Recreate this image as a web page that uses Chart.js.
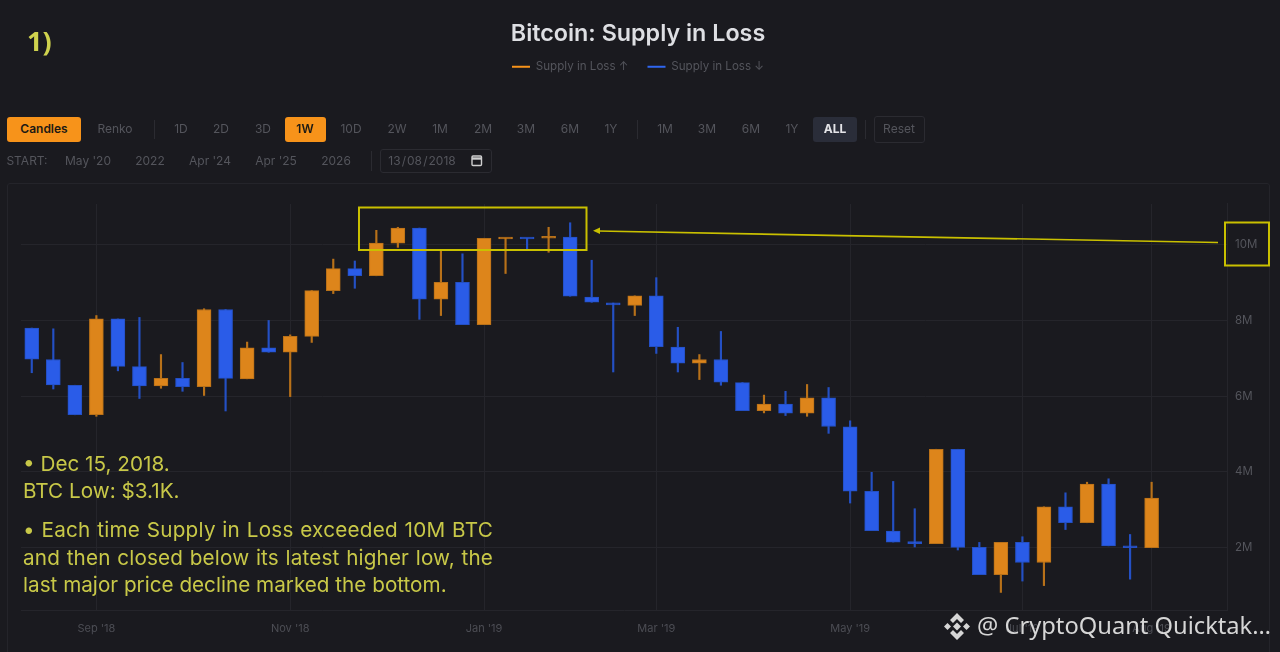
<!DOCTYPE html>
<html>
<head>
<meta charset="utf-8">
<title>Bitcoin: Supply in Loss</title>
<script src="https://cdn.jsdelivr.net/npm/chart.js@4"></script>
<style>
  html, body { margin: 0; padding: 0; background: #1a1a1f; }
  body { width: 1280px; height: 652px; overflow: hidden; position: relative; font-family: Inter, sans-serif; }
  #lineChart { position: absolute; left: 0; top: 0; }
  .frame { position: absolute; left: 7px; top: 183px; width: 1261px; height: 480px; border: 1px solid #24242a; border-radius: 3px; }
  .step { position: absolute; font-size: 12px; line-height: 16px; color: #54555c; transform: translate(-50%, -50%); white-space: nowrap; }
  .box { position: absolute; border-radius: 3px; box-sizing: border-box; }
  .sep { position: absolute; width: 1px; background: #2b2b31; }
  .note { position: absolute; color: #c8c848; font-size: 20.7px; line-height: 24px; white-space: nowrap; }
  .wide { width: 470px; white-space: normal; text-align: justify; text-align-last: justify; }
  .one { position: absolute; left: 27px; top: 22px; color: #cfd24e; font: 700 27px "Open Sans", sans-serif; }
  .mark { position: absolute; left: 977px; top: 609px; color: #d6d6d6; font: 23.7px "Noto Sans", sans-serif; white-space: nowrap; }
  svg { position: absolute; left: 0; top: 0; }
</style>
</head>
<body>
<canvas id="lineChart" width="1280" height="652"></canvas>
<div class="frame"></div>
<div class="box" style="left:7px;top:117px;width:74px;height:25px;background:#f7931a"></div>
<div class="box" style="left:285px;top:117px;width:41px;height:25px;background:#f7931a"></div>
<div class="box" style="left:813px;top:117px;width:44px;height:25px;background:#2a2d39"></div>
<div class="box" style="left:874px;top:116px;width:51px;height:27px;border:1px solid #2b2b31"></div>
<div class="box" style="left:380px;top:149px;width:112px;height:24px;border:1px solid #2b2b31"></div>
<div class="sep" style="left:154px;top:120px;height:19px"></div>
<div class="sep" style="left:637px;top:120px;height:19px"></div>
<div class="sep" style="left:865px;top:120px;height:19px"></div>
<div class="sep" style="left:371px;top:151px;height:20px"></div>
<div id="toolbar"></div>
<div class="note" style="left:23px;top:452px">• Dec 15, 2018.</div>
<div class="note" style="left:23px;top:479px">BTC Low: $3.1K.</div>
<div class="note wide" style="left:23px;top:518px;letter-spacing:.25px">• Each time Supply in Loss exceeded 10M BTC</div>
<div class="note wide" style="left:23px;top:546px;letter-spacing:.15px">and then closed below its latest higher low, the</div>
<div class="note" style="left:23px;top:573px">last major price decline marked the bottom.</div>
<div class="one">1)</div>
<svg width="1280" height="652">
  <rect x="359" y="207.5" width="227.5" height="42.5" fill="none" stroke="#c9c000" stroke-width="2"/>
  <rect x="1225" y="222.5" width="44" height="43" fill="none" stroke="#c9c000" stroke-width="2"/>
  <line x1="1218" y1="242.5" x2="598" y2="231" stroke="#c9c000" stroke-width="1.7"/>
  <polygon points="593,230.8 600,227.6 600,234" fill="#c9c000"/>
  <g fill="none" stroke="#cfcfcf" stroke-width="1.4">
    <rect x="472" y="156" width="9.5" height="9.5" rx="1"/>
    <line x1="472" y1="158.5" x2="481.5" y2="158.5" stroke-width="2.4"/>
  </g>
  <g fill="#d6d6d6">
    <polygon points="957,613 964,620 961,623 957,619 953,623 950,620"/>
    <polygon points="957,640 950,633 953,630 957,634 961,630 964,633"/>
    <polygon points="944,626.5 947.5,623 951,626.5 947.5,630"/>
    <polygon points="963,626.5 966.5,623 970,626.5 966.5,630"/>
    <polygon points="957,622.5 961,626.5 957,630.5 953,626.5"/>
  </g>
</svg>
<div class="mark">@ CryptoQuant Quicktak…</div>

<script>
const weeks = ["2018-08-13","2018-08-20","2018-08-27","2018-09-03","2018-09-10","2018-09-17","2018-09-24",
  "2018-10-01","2018-10-08","2018-10-15","2018-10-22","2018-10-29","2018-11-05","2018-11-12","2018-11-19","2018-11-26",
  "2018-12-03","2018-12-10","2018-12-17","2018-12-24","2018-12-31","2019-01-07","2019-01-14","2019-01-21","2019-01-28",
  "2019-02-04","2019-02-11","2019-02-18","2019-02-25","2019-03-04","2019-03-11","2019-03-18","2019-03-25",
  "2019-04-01","2019-04-08","2019-04-15","2019-04-22","2019-04-29","2019-05-06","2019-05-13","2019-05-20","2019-05-27",
  "2019-06-03","2019-06-10","2019-06-17","2019-06-24","2019-07-01","2019-07-08","2019-07-15","2019-07-22","2019-07-29",
  "2019-08-05","2019-08-12","2019-08-19","2019-08-26","2019-09-02"];

// supply in loss, million BTC
const opens = [7.80,6.97,6.29,5.51,8.04,6.78,6.27,6.47,6.25,8.29,6.46,7.28,7.16,7.58,8.79,9.37,9.18,10.04,10.44,8.56,9.01,7.89,10.15,10.17,10.17,10.20,8.62,8.46,8.40,8.65,7.30,6.87,6.97,6.36,5.62,5.79,5.55,5.96,5.19,3.49,2.44,2.14,2.11,4.60,2.01,1.29,2.14,1.61,3.08,2.66,3.68,2.04,2.00];
const closes = [6.98,6.30,5.51,8.04,6.79,6.27,6.47,6.25,8.29,6.47,7.28,7.16,7.58,8.79,9.37,9.18,10.04,10.44,8.56,9.01,7.89,10.17,10.17,10.15,10.20,8.64,8.48,8.41,8.65,7.31,6.87,6.97,6.37,5.62,5.79,5.55,5.96,5.20,3.49,2.45,2.15,2.11,4.60,2.01,1.29,2.14,1.61,3.08,2.66,3.68,2.05,2.00,3.31];
const highs = [7.80,7.78,6.29,8.13,8.04,8.08,7.10,6.89,8.31,8.29,7.43,8.00,7.62,8.79,9.62,9.57,10.38,10.46,10.44,9.85,9.76,10.17,10.17,10.17,10.46,10.58,9.59,8.46,8.65,9.13,7.82,7.10,7.71,6.36,6.03,6.13,6.31,6.23,5.35,3.99,3.75,3.03,4.60,4.60,2.14,2.14,2.29,3.08,3.45,3.73,3.82,2.35,3.73];
const lows = [6.62,6.19,5.51,5.47,6.67,5.94,6.21,6.13,6.02,5.61,6.46,7.16,5.99,7.42,8.71,8.85,9.18,9.93,8.03,8.13,7.89,7.89,9.24,9.88,9.80,8.64,8.48,6.64,8.13,7.13,6.64,6.44,6.29,5.62,5.56,5.49,5.47,5.02,3.18,2.45,2.15,2.02,2.11,1.94,1.29,0.82,1.12,1.00,2.48,2.66,2.05,1.17,2.00];

const tickWeeks = ["2018-09-03","2018-11-05","2019-01-07","2019-03-04","2019-05-06","2019-07-01","2019-08-12"];
const tickLabels = ["Sep '18","Nov '18","Jan '19","Mar '19","May '19","Jul '19","Aug '19"];
const yTicks = [2,4,6,8,10];

const upColor = "#dd851b", upEdge = "#b87119";
const downColor = "#2a5ce8", downEdge = "#2450c4";
const gridColor = "#25252b";

// toolbar: label, center x, center y, colour, weight
const toolbar = [
  ["Candles",44,129,"#1d1a14",600],["Renko",115,129],["1D",181,129],["2D",221,129],["3D",263,129],
  ["1W",305,129,"#1d1a14",600],["10D",351,129],["2W",397,129],["1M",440,129],["2M",483,129],["3M",526,129],
  ["6M",570,129],["1Y",611,129],["1M",665,129],["3M",707,129],["6M",751,129],["1Y",792,129],
  ["ALL",835,129,"#e4e4e8",700],["Reset",899,129],
  ["START:",27,160.5],["May '20",88,160.5],["2022",150,160.5],["Apr '24",210,160.5],["Apr '25",276,160.5],["2026",336,160.5],
  ["13\u200A/\u200A08\u200A/\u200A2018",422,160.5]
];
const bar = document.getElementById("toolbar");
toolbar.forEach(function(t){
  const s = document.createElement("span");
  s.className = "step";
  s.textContent = t[0];
  s.style.left = t[1] + "px";
  s.style.top = t[2] + "px";
  if (t[3]) s.style.color = t[3];
  if (t[4]) s.style.fontWeight = t[4];
  bar.appendChild(s);
});

function body(up){
  return opens.map(function(o, i){ return (closes[i] >= o) === up ? [o, closes[i]] : null; });
}
function wick(up){
  return opens.map(function(o, i){ return (closes[i] >= o) === up ? [lows[i], highs[i]] : null; });
}

// legend has to leave room for the toolbar underneath it
const legendGap = {
  id: "legendGap",
  beforeInit(chart){
    const fit = chart.legend.fit;
    chart.legend.fit = function(){
      fit.call(this);
      this.height = 162;
    };
  }
};

const CHART = document.getElementById("lineChart");
new Chart(CHART, {
  type: "bar",
  data: {
    labels: weeks,
    datasets: [
      { label: "Supply in Loss ↑", data: body(true), yAxisID: "y", backgroundColor: upColor, borderColor: upEdge, borderWidth: 1, borderSkipped: false, barThickness: 14, minBarLength: 2, order: 1 },
      { label: "Supply in Loss ↓", data: body(false), yAxisID: "y", backgroundColor: downColor, borderColor: downEdge, borderWidth: 1, borderSkipped: false, barThickness: 14, minBarLength: 2, order: 1 },
      { label: "wick up", data: wick(true), yAxisID: "y", backgroundColor: upEdge, barThickness: 1.5, order: 2 },
      { label: "wick down", data: wick(false), yAxisID: "y", backgroundColor: downEdge, barThickness: 1.5, order: 2 }
    ]
  },
  options: {
    responsive: false,
    animation: false,
    layout: { padding: { left: 0, right: 4, top: 0, bottom: 0 } },
    datasets: { bar: { grouped: false } },
    plugins: {
      title: {
        display: true,
        text: "Bitcoin: Supply in Loss",
        color: "#dedfe3",
        font: { family: "Inter", size: 23.3, weight: "600" },
        padding: { top: 20, bottom: -6 }
      },
      legend: {
        position: "top",
        labels: {
          color: "#54555c",
          font: { family: "Inter", size: 11.6 },
          usePointStyle: true,
          pointStyle: "line",
          pointStyleWidth: 18,
          padding: 19,
          filter: function(item){ return item.text.indexOf("wick") < 0; },
          generateLabels: function(chart){
            return chart.data.datasets.map(function(d, i){
              return { text: d.label, fillStyle: d.backgroundColor, strokeStyle: i ? "#2f66f0" : "#f7931a", lineWidth: 2, pointStyle: "line", fontColor: "#54555c", datasetIndex: i };
            });
          }
        }
      }
    },
    scales: {
      x: {
        offset: true,
        border: { color: gridColor },
        grid: {
          offset: false,
          drawTicks: false,
          color: function(ctx){ return ctx.tick && tickWeeks.indexOf(weeks[ctx.tick.value]) >= 0 ? gridColor : "transparent"; }
        },
        ticks: {
          autoSkip: false,
          maxRotation: 0,
          padding: 12,
          color: "#4c4d54",
          font: { family: "Inter", size: 11 },
          callback: function(v){
            const k = tickWeeks.indexOf(weeks[v]);
            return k >= 0 ? tickLabels[k] : "";
          }
        },
        afterFit: function(scale){ scale.height = 42; }
      },
      // empty axis, only keeps the plot clear of the frame on the left
      yLeft: {
        position: "left",
        border: { display: false },
        grid: { display: false },
        ticks: { display: false },
        afterFit: function(scale){ scale.width = 21; }
      },
      y: {
        position: "right",
        min: 0.356,
        max: 11.076,
        border: { color: gridColor },
        grid: { color: gridColor, drawTicks: false },
        afterBuildTicks: function(scale){ scale.ticks = yTicks.map(function(v){ return { value: v }; }); },
        ticks: {
          padding: 8,
          color: "#54555c",
          font: { family: "Inter", size: 11.5 },
          callback: function(v){ return v + "M"; }
        },
        afterFit: function(scale){ scale.width = 49; }
      }
    }
  },
  plugins: [legendGap]
});
</script>
</body>
</html>
